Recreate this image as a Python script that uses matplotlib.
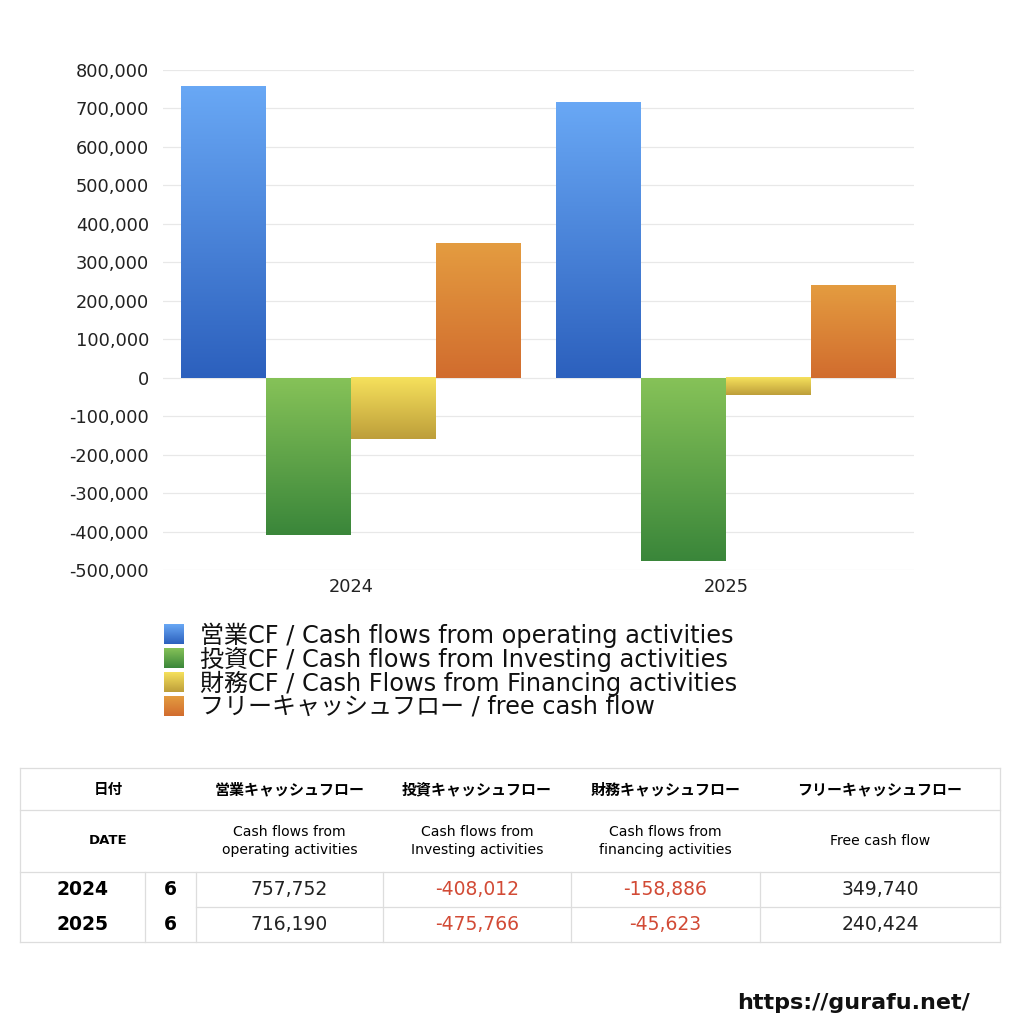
import numpy as np
import matplotlib
matplotlib.use('Agg')
import matplotlib.pyplot as plt
from matplotlib.colors import LinearSegmentedColormap
from matplotlib.ticker import FuncFormatter

plt.rcParams['font.family'] = ['DejaVu Sans', 'Noto Sans CJK JP']

years = ['2024', '2025']
months = ['6', '6']
operating = [757752, 716190]
investing = [-408012, -475766]
financing = [-158886, -45623]
free_cf = [349740, 240424]

series_labels = ['営業CF / Cash flows from operating activities',
                 '投資CF / Cash flows from Investing activities',
                 '財務CF / Cash Flows from Financing activities',
                 'フリーキャッシュフロー / free cash flow']
# (bottom colour, top colour) of each gradient
grad_colors = [('#2c60bd', '#69a8f5'),
               ('#3a863a', '#86c258'),
               ('#bd9e3a', '#f6e15c'),
               ('#d16c2e', '#e49c40')]

head_jp = ['営業キャッシュフロー', '投資キャッシュフロー', '財務キャッシュフロー', 'フリーキャッシュフロー']
head_en = ['Cash flows from\noperating activities', 'Cash flows from\nInvesting activities',
           'Cash flows from\nfinancing activities', 'Free cash flow']

fig = plt.figure(figsize=(10.24, 10.24), dpi=100)
ax = fig.add_axes([163 / 1024, 1 - 570 / 1024, 751 / 1024, 500 / 1024])

x = np.arange(len(years))
w = 0.2262
data = [operating, investing, financing, free_cf]
grad = np.linspace(1, 0, 256).reshape(-1, 1)
for i, vals in enumerate(data):
    bars = ax.bar(x + (i - 1.5) * w, vals, w, color='none', edgecolor='none')
    cmap = LinearSegmentedColormap.from_list('g%d' % i, grad_colors[i])
    for b in bars:
        bx, by = b.get_x(), b.get_y()
        bw, bh = b.get_width(), b.get_height()
        lo, hi = min(by, by + bh), max(by, by + bh)
        ax.imshow(grad, extent=[bx, bx + bw, lo, hi], aspect='auto', cmap=cmap,
                  vmin=0, vmax=1, zorder=2, interpolation='bilinear')

ax.set_xlim(-0.5, 1.5)
ax.set_ylim(-500000, 800000)
ax.set_yticks(np.arange(-500000, 800001, 100000))
ax.yaxis.set_major_formatter(FuncFormatter(lambda v, p: f'{int(v):,}'))
ax.set_xticks(x)
ax.set_xticklabels(years)
ax.tick_params(length=0, labelsize=12.8, colors='#222222')
ax.tick_params(axis='y', pad=10)
ax.tick_params(axis='x', pad=6)
ax.grid(axis='y', color='#e8e8e8', linewidth=0.9)
ax.set_axisbelow(True)
for s in ax.spines.values():
    s.set_visible(False)

# overlay in pixel coordinates for legend, table and footer
ov = fig.add_axes([0, 0, 1, 1])
ov.axis('off')
ov.patch.set_visible(False)

for i, lab in enumerate(series_labels):
    yc = 634 + i * 24
    cmap = LinearSegmentedColormap.from_list('l%d' % i, grad_colors[i])
    ov.imshow(grad, extent=[164, 184, yc + 10, yc - 10], aspect='auto', cmap=cmap,
              vmin=0, vmax=1, interpolation='bilinear')
    ov.text(200, yc + 1, lab, fontsize=17.3, va='center', ha='left', color='#111111')
ov.set_xlim(0, 1024)
ov.set_ylim(1024, 0)

# table
lc = '#dddddd'
L, R = 20, 1000
rows_y = [768, 810, 872, 907, 942]
cols = [145, 196, 383, 571, 760]
for yy in [768, 810, 872, 942]:
    ov.plot([L, R], [yy, yy], color=lc, lw=0.9)
ov.plot([196, R], [907, 907], color=lc, lw=0.9)
ov.plot([L, L], [768, 942], color=lc, lw=0.9)
ov.plot([R, R], [768, 942], color=lc, lw=0.9)
for cx in cols:
    ov.plot([cx, cx], [872, 942], color=lc, lw=0.9)

centers = [(196 + 383) / 2, (383 + 571) / 2, (571 + 760) / 2, (760 + 1000) / 2]
ov.text(108, 789, '日付', fontsize=10.5, fontweight='bold', ha='center', va='center',
        family=['Noto Sans CJK JP'])
ov.text(108, 841, 'DATE', fontsize=9.5, fontweight='bold', ha='center', va='center')
for c, hj, he in zip(centers, head_jp, head_en):
    ov.text(c, 789, hj, fontsize=10.8, fontweight='bold', ha='center', va='center',
            family=['Noto Sans CJK JP'])
    ov.text(c, 841, he, fontsize=10.1, ha='center', va='center', linespacing=1.4)

for r, (yr, mo) in enumerate(zip(years, months)):
    yc = (rows_y[2 + r] + rows_y[3 + r]) / 2
    ov.text(83, yc, yr, fontsize=13.5, fontweight='bold', ha='center', va='center')
    ov.text(170, yc, mo, fontsize=13.5, fontweight='bold', ha='center', va='center')
    for c, vals in zip(centers, data):
        v = vals[r]
        ov.text(c, yc, f'{v:,}', fontsize=13.5, ha='center', va='center',
                color='#d24a35' if v < 0 else '#222222')

ov.text(970, 1003, 'https://gurafu.net/', fontsize=16, fontweight='bold', ha='right',
        va='center', color='#111111')

fig.savefig('out.png', dpi=100)
